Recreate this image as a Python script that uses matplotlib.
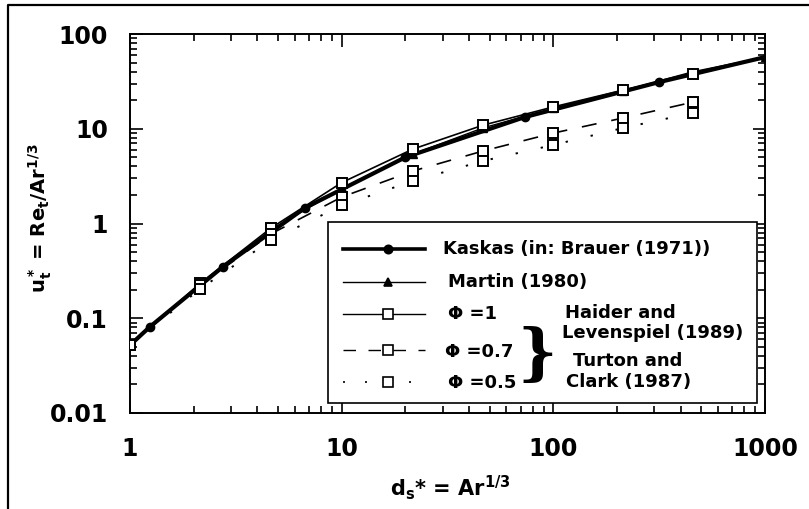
import matplotlib
matplotlib.use('Agg')
import matplotlib.pyplot as plt
from matplotlib.lines import Line2D
from matplotlib.patches import Rectangle
from matplotlib.ticker import LogLocator, NullFormatter

plt.rcParams['font.family'] = ['DejaVu Sans']
plt.rcParams['mathtext.fontset'] = 'dejavusans'
plt.rcParams['mathtext.default'] = 'bf'

# Kaskas (in: Brauer 1971)
kaskas_x = [1, 1.24, 2.75, 6.7, 20, 73.5, 315, 1000]
kaskas_y = [0.052, 0.081, 0.35, 1.46, 5.0, 13.3, 31, 57]

# Martin (1980)
martin_x = [1, 2.15, 4.65, 10, 21.7, 46.5, 100, 214, 457, 1000]
martin_y = [0.052, 0.228, 0.86, 2.35, 5.4, 10.2, 16.4, 25.2, 40, 57]

# Haider & Levenspiel / Turton & Clark, sphericity 1, 0.7, 0.5
phi_x = [1, 2.15, 4.65, 10, 21.7, 46.5, 100, 214, 457]
phi1_y = [0.052, 0.235, 0.90, 2.7, 6.1, 10.9, 17.0, 25.6, 37.8]
phi07_y = [0.052, 0.225, 0.78, 1.9, 3.58, 5.82, 9.0, 13.0, 19.1]
phi05_y = [0.052, 0.205, 0.67, 1.55, 2.81, 4.57, 6.74, 10.2, 14.7]

xticks = [1, 10, 100, 1000]
xtick_labels = ['1', '10', '100', '1000']
yticks = [0.01, 0.1, 1, 10, 100]
ytick_labels = ['0.01', '0.1', '1', '10', '100']

W, H = 809, 509
fig = plt.figure(figsize=(W / 100, H / 100), dpi=100)


def fx(px):
    return px / W


def fy(py):
    return 1 - py / H


ax = fig.add_axes([fx(130), fy(413), (765 - 130) / W, (413 - 34) / H])
ax.set_xscale('log')
ax.set_yscale('log')

dash07 = (9, 9)
dot05 = (1.2, 12)

ax.plot(martin_x, martin_y, color='black', lw=1.0, marker='^', ms=6, zorder=3)
ax.plot(kaskas_x, kaskas_y, color='black', lw=3.0, marker='o', ms=6,
        markevery=[1, 2, 3, 4, 5, 6], zorder=4)
ax.plot(phi_x, phi1_y, color='black', lw=1.2, marker='s', ms=7, mfc='white',
        mew=1.4, zorder=5)
ax.plot(phi_x, phi07_y, color='black', lw=1.2, dashes=dash07, marker='s', ms=7,
        mfc='white', mew=1.4, zorder=5)
ax.plot(phi_x, phi05_y, color='black', lw=1.4, dashes=dot05, marker='s', ms=7,
        mfc='white', mew=1.4, zorder=5)

ax.set_xlim(1, 1000)
ax.set_ylim(0.01, 100)
ax.set_xticks(xticks, xtick_labels)
ax.set_yticks(yticks, ytick_labels)
ax.xaxis.set_minor_locator(LogLocator(base=10, subs=range(2, 10)))
ax.yaxis.set_minor_locator(LogLocator(base=10, subs=range(2, 10)))
ax.xaxis.set_minor_formatter(NullFormatter())
ax.yaxis.set_minor_formatter(NullFormatter())
ax.tick_params(which='both', direction='in', top=True, right=True, width=1.2)
ax.tick_params(which='major', length=9, labelsize=17)
ax.tick_params(axis='x', which='major', pad=17)
ax.tick_params(axis='y', which='major', pad=16)
ax.tick_params(which='minor', length=5)
for lab in ax.get_xticklabels() + ax.get_yticklabels():
    lab.set_fontweight('bold')
for s in ax.spines.values():
    s.set_linewidth(1.4)

fig.text(fx(450), fy(488), r'd$_s$* = Ar$^{1/3}$', ha='center', va='center',
         fontsize=15, fontweight='bold')
fig.text(fx(40), fy(218), r'u$_t^*$ = Re$_t$/Ar$^{1/3}$', ha='center', va='center',
         rotation=90, fontsize=14, fontweight='bold')

# legend box drawn by hand
fig.add_artist(Rectangle((fx(328), fy(403)), (757 - 328) / W, (403 - 222) / H,
                         transform=fig.transFigure, facecolor='white',
                         edgecolor='black', lw=1.2, zorder=6))

leg_font = dict(fontsize=13, fontweight='bold', va='center', zorder=7)


def handle(py, lw=1.2, marker=None, mfc='black', ms=6, dashes=None):
    ln = Line2D([fx(343), fx(425)], [fy(py), fy(py)], transform=fig.transFigure,
                color='black', lw=lw, zorder=7)
    if dashes is not None:
        ln.set_dashes(dashes)
    fig.add_artist(ln)
    if marker:
        fig.add_artist(Line2D([fx(388)], [fy(py)], transform=fig.transFigure,
                              marker=marker, ms=ms, mfc=mfc, mec='black',
                              mew=1.2, color='black', zorder=8))


handle(249, lw=2.6, marker='o', ms=6)
handle(282, lw=1.0, marker='^', ms=6)
handle(314, lw=1.0, marker='s', mfc='white', ms=6.5)
handle(350, lw=1.0, marker='s', mfc='white', ms=6.5, dashes=dash07)
handle(382, lw=1.2, marker='s', mfc='white', ms=6.5, dashes=dot05)

fig.text(fx(443), fy(249), 'Kaskas (in: Brauer (1971))', **leg_font)
fig.text(fx(448), fy(282), 'Martin (1980)', **leg_font)
fig.text(fx(448), fy(314), 'Φ =1', **leg_font)
fig.text(fx(445), fy(352), 'Φ =0.7', **leg_font)
fig.text(fx(448), fy(383), 'Φ =0.5', **leg_font)
fig.text(fx(537), fy(356), '}', fontsize=44, ha='center', va='center', zorder=7,
         family='DejaVu Serif', fontweight='bold')
fig.text(fx(565), fy(313), 'Haider and', **leg_font)
fig.text(fx(562), fy(333), 'Levenspiel (1989)', **leg_font)
fig.text(fx(573), fy(361), 'Turton and', **leg_font)
fig.text(fx(566), fy(382), 'Clark (1987)', **leg_font)

# outer frame of the scanned figure
fig.add_artist(Line2D([fx(8), fx(8), 1.01], [-0.01, fy(5), fy(5)],
                      transform=fig.transFigure, color='black', lw=1.6))

fig.savefig('out.png', dpi=100)
